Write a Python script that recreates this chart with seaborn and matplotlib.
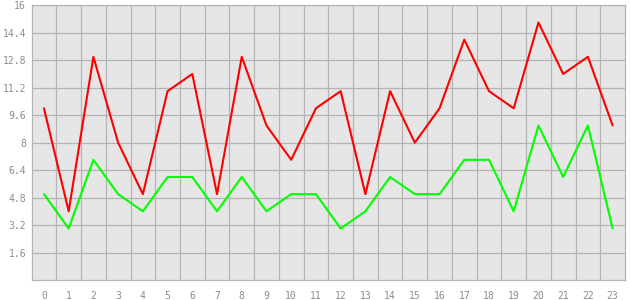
import matplotlib
matplotlib.use("Agg")
import matplotlib.pyplot as plt
import seaborn as sns
import pandas as pd
import numpy as np

hours = list(range(24))
red_values = [10, 4, 13, 8, 5, 11, 12, 5, 13, 9, 7, 10, 11, 5, 11, 8, 10, 14, 11, 10, 15, 12, 13, 9]
green_values = [5, 3, 7, 5, 4, 6, 6, 4, 6, 4, 5, 5, 3, 4, 6, 5, 5, 7, 7, 4, 9, 6, 9, 3]
y_ticks = [1.6, 3.2, 4.8, 6.4, 8, 9.6, 11.2, 12.8, 14.4, 16]
y_tick_labels = ["1.6", "3.2", "4.8", "6.4", "8", "9.6", "11.2", "12.8", "14.4", "16"]

df = pd.DataFrame({
    "x": hours * 2,
    "y": red_values + green_values,
    "series": ["red"] * len(hours) + ["green"] * len(hours),
})

sns.set_style("white")
plt.rcParams["font.family"] = ["DejaVu Sans Mono", "DejaVu Sans"]

grid_c = "#b4b4b4"
text_c = "#8c8c8c"

fig = plt.figure(figsize=(6.3, 3.0), dpi=100)
ax = fig.add_axes([31.6 / 630, 20 / 300, (625 - 31.6) / 630, (280 - 5.3) / 300])
ax.set_facecolor("#e6e6e6")

sns.lineplot(data=df, x="x", y="y", hue="series",
             palette={"red": "#ff0000", "green": "#00ff00"},
             linewidth=1.5, legend=False, ax=ax, zorder=3)

ax.set_xlim(-0.5, 23.5)
ax.set_ylim(0, 16)
ax.set_xticks(hours)
ax.set_xticklabels([str(h) for h in hours])
ax.set_xticks(np.arange(0.5, 23, 1), minor=True)
ax.set_yticks(y_ticks)
ax.set_yticklabels(y_tick_labels)
ax.set_xlabel("")
ax.set_ylabel("")

ax.grid(False)
ax.xaxis.grid(True, which="minor", color=grid_c, linewidth=0.9)
ax.yaxis.grid(True, which="major", color=grid_c, linewidth=0.9)
ax.set_axisbelow(True)

ax.tick_params(axis="x", which="major", length=3.6, width=0.9, color=grid_c,
               labelcolor=text_c, labelsize=7, pad=4)
ax.tick_params(axis="x", which="minor", length=0)
ax.tick_params(axis="y", which="major", length=3, width=0.9, color=grid_c,
               labelcolor=text_c, labelsize=7, pad=1)

for side in ["left", "bottom", "top", "right"]:
    ax.spines[side].set_color(grid_c)
    ax.spines[side].set_linewidth(0.9)
    ax.spines[side].set_visible(True)

fig.savefig("out.png", dpi=100, facecolor="white")
